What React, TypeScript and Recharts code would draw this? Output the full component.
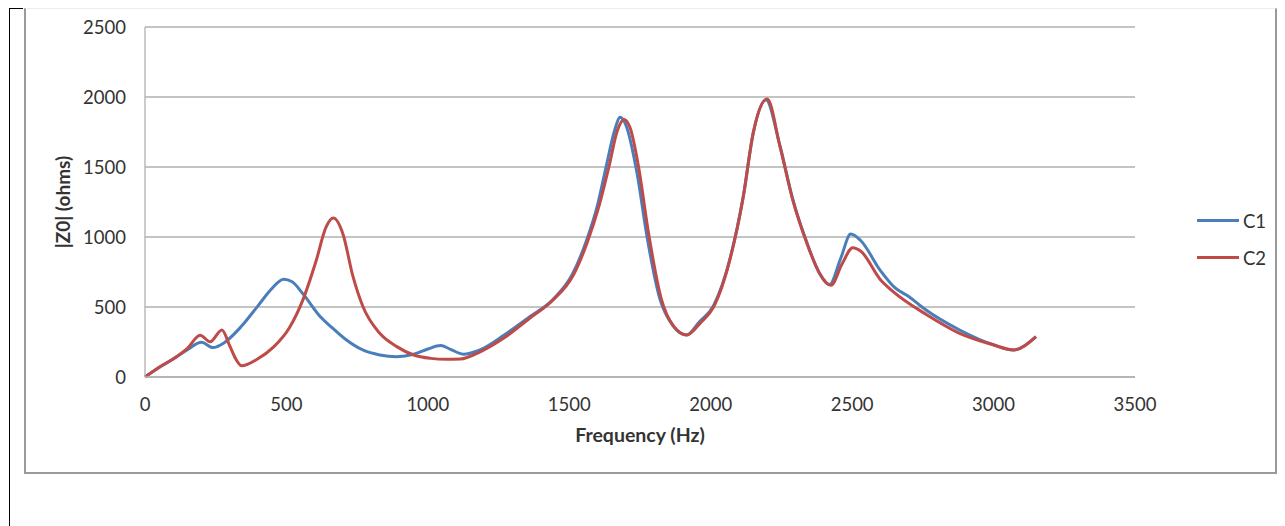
import React from "react";
import { LineChart, Line, XAxis, YAxis, CartesianGrid, Legend } from "recharts";

const xTicks = [0, 500, 1000, 1500, 2000, 2500, 3000, 3500];
const yTicks = [0, 500, 1000, 1500, 2000, 2500];

const c1Freq = [0, 50, 100, 150, 200, 240, 280, 340, 400, 450, 490, 520, 560, 620, 660, 710, 770, 830, 890, 950, 1000, 1045, 1080, 1125, 1180, 1270, 1360, 1440, 1510, 1560, 1600, 1630, 1660, 1680, 1700, 1740, 1775, 1820, 1865, 1915, 1960, 2010, 2070, 2115, 2150, 2195, 2245, 2290, 2340, 2385, 2420, 2460, 2495, 2530, 2600, 2650, 2700, 2760, 2880, 3000, 3070, 3150];
const c1Ohms = [0, 68, 128, 195, 248, 210, 245, 360, 510, 635, 698, 680, 590, 430, 355, 268, 193, 157, 145, 162, 200, 225, 198, 163, 190, 300, 430, 550, 730, 970, 1230, 1500, 1760, 1855, 1800, 1450, 1000, 560, 370, 300, 395, 510, 860, 1290, 1740, 1980, 1650, 1270, 960, 740, 660, 850, 1021, 975, 760, 640, 575, 480, 336, 230, 193, 288];

const c2Freq = [0, 50, 100, 150, 195, 230, 272, 300, 322, 342, 395, 455, 510, 560, 605, 640, 666, 700, 735, 770, 830, 890, 950, 1010, 1065, 1115, 1185, 1270, 1360, 1440, 1515, 1565, 1605, 1640, 1670, 1693, 1715, 1745, 1780, 1825, 1870, 1915, 1965, 2010, 2070, 2115, 2150, 2200, 2245, 2290, 2340, 2385, 2425, 2465, 2502, 2530, 2600, 2645, 2765, 2880, 3000, 3070, 3150];
const c2Ohms = [0, 70, 130, 205, 298, 252, 336, 220, 125, 80, 125, 215, 350, 560, 830, 1070, 1135, 1020, 720, 505, 312, 217, 157, 133, 126, 128, 180, 280, 420, 545, 730, 970, 1220, 1500, 1760, 1840, 1780, 1500, 1030, 560, 360, 300, 390, 500, 855, 1285, 1740, 1985, 1645, 1265, 955, 740, 655, 810, 924, 900, 695, 610, 443, 312, 229, 193, 288];

const c1Data = c1Freq.map((f, i) => ({ f, z: c1Ohms[i] }));
const c2Data = c2Freq.map((f, i) => ({ f, z: c2Ohms[i] }));

const FONT = "Lato, 'Open Sans', sans-serif";
const BLUE = "#4a7ebb";
const RED = "#be4b48";

const LegendContent = (props: any) => {
  const payload = props.payload || [];
  return (
    <div style={{ fontFamily: FONT }}>
      {payload.map((p: any) => (
        <div key={p.value} style={{ display: "flex", alignItems: "center", height: 37 }}>
          <div style={{ width: 42, height: 3, background: p.color, marginRight: 4 }} />
          <span style={{ fontSize: 18.5, color: "#333" }}>{p.value}</span>
        </div>
      ))}
    </div>
  );
};

export default function App() {
  return (
    <div style={{ position: "relative", width: 1277, height: 518 }}>
      <div
        style={{
          position: "absolute",
          left: 1,
          top: 0,
          width: 14,
          height: 518,
          borderLeft: "1.5px solid #000",
          borderTop: "1px solid #000",
          boxSizing: "border-box",
        }}
      />
      <div
        style={{
          position: "absolute",
          left: 1270,
          top: 0,
          width: 7,
          height: 14,
          borderLeft: "1.5px solid #000",
          borderTop: "1px solid #000",
          boxSizing: "border-box",
        }}
      />
      <div
        style={{
          position: "absolute",
          left: 16,
          top: 0,
          width: 1253,
          height: 466,
          borderLeft: "2px solid #9a9a9a",
          borderRight: "2px solid #9a9a9a",
          borderBottom: "2px solid #9a9a9a",
          borderTop: "1px solid #ececec",
          boxSizing: "border-box",
        }}
      />
      <div style={{ position: "absolute", left: 16, top: 0 }}>
        <LineChart
          width={1253}
          height={466}
          margin={{ top: 19, right: 142, bottom: 37, left: 0 }}
        >
          <CartesianGrid vertical={false} stroke="#b0b0b0" strokeWidth={1.3} />
          <XAxis
            dataKey="f"
            type="number"
            domain={[0, 3500]}
            ticks={xTicks}
            allowDuplicatedCategory={false}
            height={60}
            tickSize={0}
            tickMargin={21}
            axisLine={{ stroke: "#b0b0b0", strokeWidth: 1.3 }}
            tick={{ fill: "#333", fontSize: 18.5, fontFamily: FONT }}
            label={{
              content: (p: any) => {
                const vb = p.viewBox || {};
                return (
                  <text
                    x={vb.x + vb.width / 2}
                    y={vb.y + 60}
                    textAnchor="middle"
                    dominantBaseline="middle"
                    fontFamily={FONT}
                    fontSize={19.5}
                    fontWeight="bold"
                    fill="#333"
                  >
                    Frequency (Hz)
                  </text>
                );
              },
            }}
          />
          <YAxis
            type="number"
            domain={[0, 2500]}
            ticks={yTicks}
            width={121}
            tickSize={0}
            tickMargin={19}
            axisLine={{ stroke: "#b0b0b0", strokeWidth: 1.3 }}
            tick={{ fill: "#333", fontSize: 18.5, fontFamily: FONT }}
            label={{
              content: (p: any) => {
                const vb = p.viewBox || {};
                const cx = vb.x + 41;
                const cy = vb.y + vb.height / 2;
                return (
                  <text
                    x={cx}
                    y={cy}
                    transform={`rotate(-90 ${cx} ${cy})`}
                    textAnchor="middle"
                    dominantBaseline="middle"
                    fontFamily={FONT}
                    fontSize={19}
                    fontWeight="bold"
                    fill="#333"
                    style={{ whiteSpace: "pre" }}
                  >
                    |Z0| (ohms)
                  </text>
                );
              },
            }}
          />
          <Legend
            layout="vertical"
            align="center"
            verticalAlign="middle"
            content={<LegendContent />}
            wrapperStyle={{ position: "absolute", left: 1173, top: 194, width: 80 }}
          />
          <Line
            data={c1Data}
            dataKey="z"
            name="C1"
            type="monotone"
            stroke={BLUE}
            strokeWidth={3}
            dot={false}
            isAnimationActive={false}
          />
          <Line
            data={c2Data}
            dataKey="z"
            name="C2"
            type="monotone"
            stroke={RED}
            strokeWidth={3}
            dot={false}
            isAnimationActive={false}
          />
        </LineChart>
      </div>
    </div>
  );
}
